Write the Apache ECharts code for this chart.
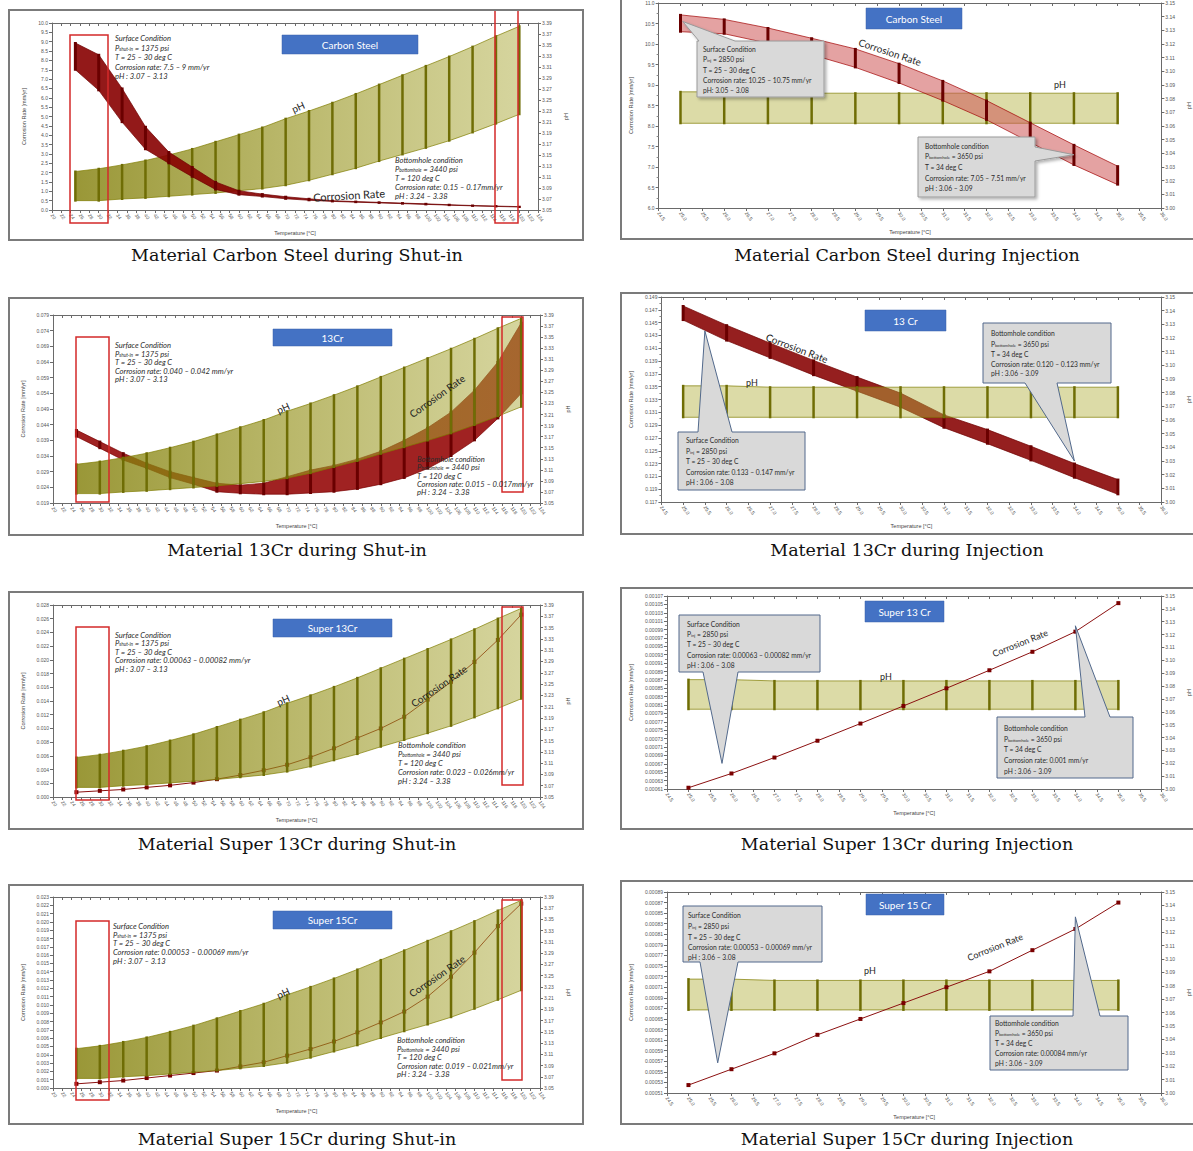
<!DOCTYPE html>
<html lang="en">
<head>
<meta charset="UTF-8">
<title>Corrosion rate and pH - shut-in and injection</title>
<script src="https://cdn.jsdelivr.net/npm/echarts@6/dist/echarts.min.js"></script>
<style>
  * { margin: 0; padding: 0; }
  body { background: #fff; width: 1193px; height: 1151px; position: relative; overflow: hidden; }
  .chart { position: absolute; }
  .frame { position: absolute; border: 2px solid #7b7b7b; box-sizing: border-box; pointer-events: none; }
  .cap { position: absolute; width: 600px; text-align: center; font-family: "DejaVu Serif", serif; font-size: 17.5px; color: #111; line-height: 20px; }
</style>
</head>
<body>
<script>
    // temperatures of the points
    var shutT = [25, 30, 35, 40, 45, 50, 55, 60, 65, 70, 75, 80, 85, 90, 95, 100, 105, 110, 115, 120];
    var injT = [25, 26, 27, 28, 29, 30, 31, 32, 33, 34, 35];

    // pH band, same in every shut-in / injection chart
    var phShutHigh = [3.120, 3.125, 3.132, 3.140, 3.150, 3.161, 3.174, 3.187, 3.200, 3.216, 3.230, 3.245, 3.261, 3.278, 3.295, 3.312, 3.329, 3.347, 3.366, 3.384];
    var phShutLow = [3.067, 3.067, 3.070, 3.072, 3.075, 3.078, 3.081, 3.085, 3.089, 3.095, 3.104, 3.115, 3.126, 3.139, 3.151, 3.163, 3.176, 3.191, 3.207, 3.224];
    var phInjHigh = [3.085, 3.085, 3.084, 3.084, 3.084, 3.084, 3.084, 3.084, 3.084, 3.084, 3.084];
    var phInjLow = [3.062, 3.062, 3.062, 3.062, 3.062, 3.062, 3.062, 3.062, 3.062, 3.062, 3.062];

    // corrosion rate, shut-in
    var csShutHigh = [8.93, 8.30, 6.50, 4.45, 3.10, 2.30, 1.50, 1.03, 0.85, 0.71, 0.60, 0.50, 0.45, 0.41, 0.37, 0.33, 0.28, 0.24, 0.21, 0.18];
    var csShutLow = [7.50, 6.40, 4.70, 3.25, 2.50, 1.78, 1.10, 0.82, 0.72, 0.60, 0.52, 0.46, 0.42, 0.38, 0.34, 0.30, 0.26, 0.22, 0.19, 0.16];
    var cr13ShutHigh = [0.0423, 0.0386, 0.0349, 0.0317, 0.0290, 0.0271, 0.0253, 0.0247, 0.0253, 0.0274, 0.0295, 0.0310, 0.0330, 0.0355, 0.0390, 0.0430, 0.0480, 0.0550, 0.0640, 0.0765];
    var cr13ShutLow = [0.0402, 0.0365, 0.0327, 0.0301, 0.0271, 0.0250, 0.0226, 0.0221, 0.0218, 0.0218, 0.0222, 0.0226, 0.0235, 0.0250, 0.0270, 0.0300, 0.0340, 0.0390, 0.0460, 0.0540];
    var s13Shut = [0.0007, 0.0009, 0.0011, 0.0014, 0.0017, 0.0021, 0.0026, 0.0032, 0.0039, 0.0047, 0.0058, 0.0071, 0.0086, 0.0100, 0.0117, 0.0142, 0.0168, 0.0197, 0.0229, 0.0266];
    var s15Shut = [0.0005, 0.0007, 0.0009, 0.0012, 0.0015, 0.0018, 0.0021, 0.0026, 0.0031, 0.0039, 0.0047, 0.0056, 0.0067, 0.0079, 0.0092, 0.0110, 0.0134, 0.0163, 0.0195, 0.0222];

    // corrosion rate, injection
    var csInjHigh = [10.71, 10.60, 10.39, 10.14, 9.88, 9.52, 9.10, 8.62, 8.08, 7.54, 7.02];
    var csInjLow = [10.30, 10.25, 10.02, 9.74, 9.43, 9.05, 8.62, 8.15, 7.60, 7.05, 6.57];
    var cr13InjHigh = [0.1476, 0.1446, 0.1418, 0.1391, 0.1365, 0.1340, 0.1306, 0.1283, 0.1257, 0.1230, 0.1205];
    var cr13InjLow = [0.1454, 0.1422, 0.1395, 0.1368, 0.1343, 0.1318, 0.1286, 0.1261, 0.1235, 0.1208, 0.1182];
    var s13Inj = [0.000613, 0.000647, 0.000685, 0.000725, 0.000766, 0.000808, 0.000850, 0.000893, 0.000937, 0.000985, 0.001053];
    var s15Inj = [0.000525, 0.000555, 0.000585, 0.000620, 0.000650, 0.000680, 0.000710, 0.000740, 0.000780, 0.000820, 0.000870];

    var FONT = 'Lato, "Liberation Sans", sans-serif';

    function surfShut(rate) {
        return ['Surface Condition', '{n|P}{s|shut-in}{n| = 1375 psi}', 'T = 25 \u2013 30 deg C', 'Corrosion rate: ' + rate, 'pH : 3.07 \u2013 3.13'];
    }
    function bottomShut(rate) {
        return ['Bottomhole condition', '{n|P}{s|bottomhole}{n| = 3440 psi}', 'T = 120 deg C', 'Corrosion rate: ' + rate, 'pH : 3.24 \u2013 3.38'];
    }
    function surfInj(rate, ph) {
        return ['Surface Condition', '{n|P}{s|inj}{n| = 2850 psi}', 'T = 25 \u2013 30 deg C', 'Corrosion rate: ' + rate, ph];
    }
    function bottomInj(rate) {
        return ['Bottomhole condition', '{n|P}{s|bottomhole}{n| = 3650 psi}', 'T = 34 deg C', 'Corrosion rate: ' + rate, 'pH : 3.06 \u2013 3.09'];
    }

    var panels = [
        {
            kind: 'shut', box: [8, 9, 584, 241], grid: [52, 23, 538, 210],
            y: [0, 10, 0.5, 1], nameGap: 17, hi: csShutHigh, lo: csShutLow, redTop: true,
            redFill: 'rgba(135,0,0,0.9)', redEdge: '#6e0000',
            title: 'Carbon Steel', tbox: [282, 35, 418, 54],
            caption: 'Material Carbon Steel during Shut-in', capY: 245,
            boxes: [[70, 35, 108, 223], [495, 8, 518, 223]],
            notes: [{ x: 115, ys: [38, 48, 57, 67, 76], lines: surfShut('7.5 \u2013 9 mm/yr') },
                { x: 395, ys: [160, 169, 178, 187, 196], lines: bottomShut('0.15 \u2013 0.17mm/yr') }],
            ph: [298, 107, 0.42], cr: [349, 195, 0.06, 11]
        },
        {
            kind: 'inj', box: [620, -6, 1200, 240], grid: [650, 3, 1168, 208],
            y: [6, 11, 0.5, 1], nameGap: 17, hi: csInjHigh, lo: csInjLow, redTop: true,
            redFill: 'rgba(205,85,85,0.55)', redEdge: '#a00000',
            title: 'Carbon Steel', tbox: [866, 8, 962, 29],
            caption: 'Material Carbon Steel during Injection', capY: 245,
            callouts: [
                { b: [697, 41, 824, 97], side: 'top', a: [699, 735], tip: [25.05, 10.55], x: 703, ys: [49, 59, 70, 80, 90], lines: surfInj('10.25 \u2013 10.75 mm/yr', 'pH: 3.05 \u2013 3.08'), shadow: true },
                { b: [918, 137, 1035, 197], side: 'right', a: [147, 161], tip: [34, 7.3], x: 925, ys: [146, 156, 167, 178, 188], lines: bottomInj('7.05 \u2013 7.51 mm/yr'), shadow: true }],
            ph: [1060, 84, 0], cr: [890, 52, -0.32, 10]
        },
        {
            kind: 'shut', box: [8, 297, 584, 536], grid: [53, 315, 540, 503],
            y: [0.019, 0.079, 0.005, 3], nameGap: 20, hi: cr13ShutHigh, lo: cr13ShutLow, redTop: false,
            redFill: 'rgba(150,10,10,0.9)', redEdge: '#7a0000',
            title: '13Cr', tbox: [273, 329, 392, 346],
            caption: 'Material 13Cr during Shut-in', capY: 540,
            boxes: [[76, 337, 109, 502], [502, 317, 523, 492]],
            notes: [{ x: 115, ys: [345, 354, 362, 371, 379], lines: surfShut('0.040 \u2013 0.042 mm/yr') },
                { x: 417, ys: [459, 467, 476, 484, 492], lines: bottomShut('0.015 \u2013 0.017mm/yr') }],
            ph: [283, 408, 0.42], cr: [437, 396, 0.62, 10]
        },
        {
            kind: 'inj', box: [620, 292, 1200, 535], grid: [652, 297, 1168, 502],
            y: [0.117, 0.149, 0.002, 3], nameGap: 20, hi: cr13InjHigh, lo: cr13InjLow, redTop: false,
            redFill: 'rgba(140,12,12,0.92)', redEdge: '#6e0000',
            title: '13 Cr', tbox: [865, 310, 946, 331],
            caption: 'Material 13Cr during Injection', capY: 540,
            callouts: [
                { b: [678, 432, 805, 490], side: 'top', a: [698, 732], tip: [25.5, 0.1437], x: 686, ys: [440, 451, 461, 472, 482], lines: surfInj('0.133 \u2013 0.147 mm/yr', 'pH : 3.06 \u2013 3.08') },
                { b: [983, 323, 1111, 383], side: 'bottom', a: [1025, 1057], tip: [34, 0.1234], x: 991, ys: [333, 344, 354, 364, 373], lines: bottomInj('0.120 \u2013 0.123 mm/yr') }],
            ph: [752, 382, 0], cr: [797, 348, -0.36, 10]
        },
        {
            kind: 'shut', box: [8, 591, 584, 830], grid: [53, 605, 540, 797],
            y: [0, 0.028, 0.002, 3], nameGap: 20, line: s13Shut,
            title: 'Super 13Cr', tbox: [273, 619, 392, 637],
            caption: 'Material Super 13Cr during Shut-in', capY: 834,
            boxes: [[76, 627, 109, 800], [502, 607, 523, 785]],
            notes: [{ x: 115, ys: [635, 643, 652, 660, 669], lines: surfShut('0.00063 \u2013 0.00082 mm/yr') },
                { x: 398, ys: [745, 754, 763, 772, 781], lines: bottomShut('0.023 \u2013 0.026mm/yr') }],
            ph: [283, 700, 0.42], cr: [439, 686, 0.6, 10]
        },
        {
            kind: 'inj', box: [620, 587, 1200, 830], grid: [660, 596, 1168, 789],
            y: [0.00061, 0.00107, 0.00002, 5], nameGap: 26, line: s13Inj,
            title: 'Super 13 Cr', tbox: [865, 601, 944, 622],
            caption: 'Material Super 13Cr during Injection', capY: 834,
            callouts: [
                { b: [679, 615, 820, 672], side: 'bottom', a: [703, 738], tip: [25.78, 0.000671], x: 687, ys: [624, 634, 644, 655, 665], lines: surfInj('0.00063 \u2013 0.00082 mm/yr', 'pH : 3.06 \u2013 3.08') },
                { b: [997, 717, 1133, 778], side: 'top', a: [1085, 1110], tip: [34, 0.000999], x: 1004, ys: [728, 739, 749, 760, 771], lines: bottomInj('0.001 mm/yr') }],
            ph: [886, 676, 0], cr: [1020, 643, 0.38, 9]
        },
        {
            kind: 'shut', box: [8, 884, 584, 1125], grid: [53, 897, 540, 1088],
            y: [0, 0.023, 0.001, 3], nameGap: 20, line: s15Shut,
            title: 'Super 15Cr', tbox: [273, 911, 392, 929],
            caption: 'Material Super 15Cr during Shut-in', capY: 1129,
            boxes: [[76, 921, 109, 1100], [502, 900, 522, 1080]],
            notes: [{ x: 113, ys: [926, 935, 943, 952, 961], lines: surfShut('0.00053 \u2013 0.00069 mm/yr') },
                { x: 397, ys: [1040, 1049, 1057, 1066, 1074], lines: bottomShut('0.019 \u2013 0.021mm/yr') }],
            ph: [283, 993, 0.42], cr: [437, 976, 0.6, 10]
        },
        {
            kind: 'inj', box: [620, 880, 1200, 1125], grid: [660, 892, 1168, 1093],
            y: [0.00051, 0.00089, 0.00002, 5], nameGap: 26, line: s15Inj,
            title: 'Super 15 Cr', tbox: [866, 894, 944, 915],
            caption: 'Material Super 15Cr during Injection', capY: 1129,
            callouts: [
                { b: [683, 906, 822, 962], side: 'bottom', a: [700, 738], tip: [25.68, 0.000567], x: 688, ys: [915, 926, 937, 947, 957], lines: surfInj('0.00053 \u2013 0.00069 mm/yr', 'pH : 3.06 \u2013 3.08') },
                { b: [990, 1016, 1128, 1070], side: 'top', a: [1073, 1100], tip: [34, 0.000843], x: 995, ys: [1023, 1033, 1043, 1053, 1063], lines: bottomInj('0.00084 mm/yr') }],
            ph: [870, 970, 0], cr: [995, 947, 0.38, 9]
        }
    ];

    // filled band between two curves, with the dark marker bar at each point
    function bandSeries(xs, lo, hi, yIdx, fill, edge, bar, barW, z) {
        return {
            type: 'custom', xAxisIndex: 0, yAxisIndex: yIdx, z: z, silent: true, clip: true,
            data: xs.map(function (x, i) { return [x, lo[i], hi[i]]; }),
            renderItem: function (params, api) {
                var kids = [];
                if (params.dataIndex === 0) {
                    var pts = [], k;
                    for (k = 0; k < xs.length; k++) pts.push(api.coord([xs[k], hi[k]]));
                    for (k = xs.length - 1; k >= 0; k--) pts.push(api.coord([xs[k], lo[k]]));
                    kids.push({ type: 'polygon', shape: { points: pts }, style: { fill: fill, stroke: edge, lineWidth: 0.7 } });
                }
                var a = api.coord([api.value(0), api.value(2)]);
                var b = api.coord([api.value(0), api.value(1)]);
                kids.push({ type: 'rect', shape: { x: a[0] - barW / 2, y: a[1] - 1, width: barW, height: b[1] - a[1] + 2 }, style: { fill: bar } });
                return { type: 'group', children: kids };
            }
        };
    }

    function calloutPts(b, side, a, tip) {
        var x0 = b[0], y0 = b[1], x1 = b[2], y1 = b[3];
        if (side === 'top') return [[x0, y0], [a[0], y0], tip, [a[1], y0], [x1, y0], [x1, y1], [x0, y1]];
        if (side === 'bottom') return [[x0, y0], [x1, y0], [x1, y1], [a[1], y1], tip, [a[0], y1], [x0, y1]];
        return [[x0, y0], [x1, y0], [x1, a[0]], tip, [x1, a[1]], [x1, y1], [x0, y1]];
    }

    // one line of a note; {n|..}{s|..} marks a subscript
    function textLine(x, y, str, size, italic) {
        var fs = italic ? 'italic' : 'normal';
        return {
            type: 'text', x: x, y: y, z: 120, silent: true,
            style: {
                text: str, fill: '#2b2b2b', fontSize: size, fontFamily: FONT, fontStyle: fs,
                lineHeight: size, verticalAlign: 'middle',
                rich: {
                    n: { fontSize: size, fontFamily: FONT, fontStyle: fs, fill: '#2b2b2b', lineHeight: size, verticalAlign: 'top' },
                    s: { fontSize: size * 0.62, fontFamily: FONT, fontStyle: fs, fill: '#2b2b2b', lineHeight: size * 0.5, verticalAlign: 'bottom' }
                }
            }
        };
    }

    function makePanel(p) {
        var ox = p.box[0], oy = p.box[1];
        var W = p.box[2] - ox, H = p.box[3] - oy;
        var inj = p.kind === 'inj';
        var xs = inj ? injT : shutT;

        var el = document.createElement('div');
        el.className = 'chart';
        el.style.left = ox + 'px'; el.style.top = oy + 'px';
        el.style.width = W + 'px'; el.style.height = H + 'px';
        document.body.appendChild(el);
        var fr = document.createElement('div');
        fr.className = 'frame';
        fr.style.left = ox + 'px'; fr.style.top = oy + 'px';
        fr.style.width = W + 'px'; fr.style.height = H + 'px';
        document.body.appendChild(fr);
        var cap = document.createElement('div');
        cap.className = 'cap';
        cap.textContent = p.caption;
        cap.style.left = ((inj ? 907 : 297) - 300) + 'px';
        cap.style.top = p.capY + 'px';
        document.body.appendChild(cap);

        var chart = echarts.init(el, null, { renderer: 'svg', width: W, height: H });

        var axisLine = { show: true, lineStyle: { color: '#6a6a6a', width: 1 } };
        var lab = { fontSize: 5, color: '#555', fontFamily: '"Liberation Sans", sans-serif' };
        var xBase = inj ? { min: 24.5, max: 36, interval: 0.5 } : { min: 20, max: 124, interval: 2 };

        var xAxes = [
            echarts.util.extend({
                type: 'value', position: 'bottom', axisLine: axisLine,
                axisTick: { show: true, length: 3, lineStyle: { color: '#6a6a6a' } },
                axisLabel: echarts.util.extend({
                    rotate: -55, margin: 4,
                    formatter: function (v) { return inj ? v.toFixed(1) : String(Math.round(v)); }
                }, lab),
                splitLine: { show: false },
                name: 'Temperature [\u00b0C]', nameLocation: 'middle', nameGap: 20,
                nameTextStyle: { fontSize: 5.5, color: '#444', fontFamily: '"Liberation Sans", sans-serif' }
            }, xBase),
            echarts.util.extend({
                type: 'value', position: 'top', axisLine: axisLine,
                axisTick: { show: true, inside: true, length: 3, lineStyle: { color: '#6a6a6a' } },
                axisLabel: { show: false }, splitLine: { show: false }
            }, xBase)
        ];

        var dec = p.y[3];
        var yAxes = [
            {
                type: 'value', position: 'left', min: p.y[0], max: p.y[1], interval: p.y[2],
                axisLine: axisLine,
                axisTick: { show: true, length: 3, lineStyle: { color: '#6a6a6a' } },
                minorTick: { show: inj, splitNumber: 2, length: 2, lineStyle: { color: '#888' } },
                axisLabel: echarts.util.extend({ margin: 4, formatter: function (v) { return v.toFixed(dec); } }, lab),
                splitLine: { show: false },
                name: 'Corrosion Rate [mm/yr]', nameLocation: 'middle', nameGap: p.nameGap, nameRotate: 90,
                nameTextStyle: { fontSize: 5.5, color: '#444', fontFamily: '"Liberation Sans", sans-serif' }
            },
            {
                type: 'value', position: 'right',
                min: inj ? 3.00 : 3.05, max: inj ? 3.15 : 3.39, interval: inj ? 0.01 : 0.02,
                axisLine: axisLine,
                axisTick: { show: true, length: 3, lineStyle: { color: '#6a6a6a' } },
                axisLabel: echarts.util.extend({ margin: 4, formatter: function (v) { return v.toFixed(2); } }, lab),
                splitLine: { show: false },
                name: 'pH', nameLocation: 'middle', nameGap: 20, nameRotate: 90,
                nameTextStyle: { fontSize: 5.5, color: '#444', fontFamily: '"Liberation Sans", sans-serif' }
            }
        ];

        var series = [];
        var phFill = inj ? 'rgba(178,176,60,0.45)' : {
            type: 'linear', x: 0, y: 0, x2: 1, y2: 0,
            colorStops: [{ offset: 0, color: 'rgba(128,125,5,0.8)' }, { offset: 0.5, color: 'rgba(150,147,30,0.65)' }, { offset: 1, color: 'rgba(172,170,60,0.5)' }]
        };
        if (p.hi) {
            series.push(bandSeries(xs, p.lo, p.hi, 0, p.redFill, p.redEdge, '#6a0000', 3, p.redTop ? 4 : 2));
        } else {
            series.push({
                type: 'line', xAxisIndex: 0, yAxisIndex: 0, z: inj ? 5 : 2, silent: true,
                data: xs.map(function (x, i) { return [x, p.line[i]]; }),
                symbol: 'rect', symbolSize: 4, showSymbol: true,
                lineStyle: { color: '#8b1010', width: 1 }, itemStyle: { color: '#7a0000' }
            });
        }
        series.push(bandSeries(xs, inj ? phInjLow : phShutLow, inj ? phInjHigh : phShutHigh, 1,
            phFill, '#807d00', '#6f6d05', 2.5, 3));

        chart.setOption({
            animation: false,
            grid: { left: p.grid[0] - ox, top: p.grid[1] - oy, right: p.box[2] - p.grid[2], bottom: p.box[3] - p.grid[3], containLabel: false },
            xAxis: xAxes, yAxis: yAxes, series: series
        });

        // annotations, drawn in chart pixels
        var g = [];

        (p.boxes || []).forEach(function (b) {
            g.push({ type: 'rect', z: 110, silent: true, shape: { x: b[0] - ox, y: b[1] - oy, width: b[2] - b[0], height: b[3] - b[1] }, style: { fill: 'none', stroke: '#d42a2a', lineWidth: 1.5 } });
        });
        (p.notes || []).forEach(function (nt) {
            nt.lines.forEach(function (s, i) {
                g.push(textLine(nt.x - ox, nt.ys[i] - oy, s, 7.6, true));
            });
        });
        (p.callouts || []).forEach(function (c) {
            var tip = chart.convertToPixel({ xAxisIndex: 0, yAxisIndex: 0 }, c.tip);
            var b = [c.b[0] - ox, c.b[1] - oy, c.b[2] - ox, c.b[3] - oy];
            var a = c.side === 'right' ? [c.a[0] - oy, c.a[1] - oy] : [c.a[0] - ox, c.a[1] - ox];
            var st = { fill: '#d9d9d9', stroke: c.shadow ? '#9a9a9a' : '#52698c', lineWidth: 1 };
            if (c.shadow) { st.shadowBlur = 3; st.shadowOffsetX = 2; st.shadowOffsetY = 2; st.shadowColor = 'rgba(0,0,0,0.3)'; }
            g.push({ type: 'polygon', z: 115, silent: true, shape: { points: calloutPts(b, c.side, a, tip) }, style: st });
            c.lines.forEach(function (s, i) {
                g.push(textLine(c.x - ox, c.ys[i] - oy, s, 6.7, false));
            });
        });

        var tb = p.tbox;
        g.push({ type: 'rect', z: 110, silent: true, shape: { x: tb[0] - ox, y: tb[1] - oy, width: tb[2] - tb[0], height: tb[3] - tb[1] }, style: { fill: '#4472c4', stroke: '#3a62aa', lineWidth: 0.5 } });
        g.push({ type: 'text', z: 111, silent: true, x: (tb[0] + tb[2]) / 2 - ox, y: (tb[1] + tb[3]) / 2 - oy, style: { text: p.title, fill: '#fff', fontSize: 10, fontFamily: FONT, align: 'center', verticalAlign: 'middle' } });

        g.push({ type: 'text', z: 111, silent: true, x: p.ph[0] - ox, y: p.ph[1] - oy, rotation: p.ph[2], style: { text: 'pH', fill: '#1e1e1e', fontSize: inj ? 9 : 10, fontFamily: FONT, align: 'center', verticalAlign: 'middle' } });
        g.push({ type: 'text', z: 111, silent: true, x: p.cr[0] - ox, y: p.cr[1] - oy, rotation: p.cr[2], style: { text: 'Corrosion Rate', fill: '#1e1e1e', fontSize: p.cr[3], fontFamily: FONT, align: 'center', verticalAlign: 'middle' } });

        chart.setOption({ graphic: g });
    }

    panels.forEach(makePanel);
</script>
</body>
</html>
